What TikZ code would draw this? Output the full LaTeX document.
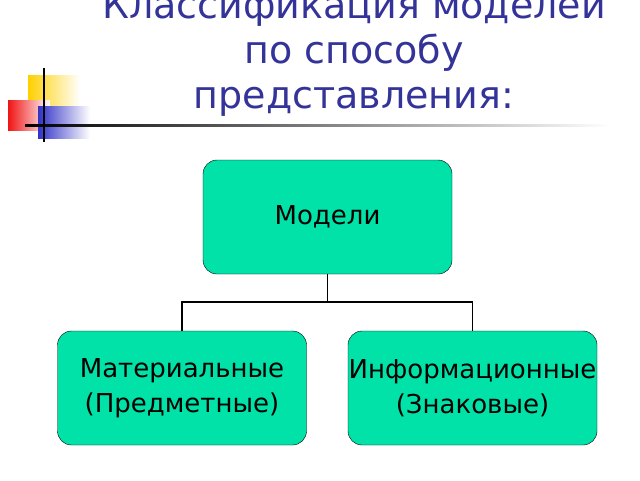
\documentclass[tikz,border=0pt]{standalone}
\usepackage{fontspec}
\setmainfont{DejaVu Sans}
\definecolor{boxc}{RGB}{0,226,168}
\definecolor{titlec}{RGB}{51,51,153}
\definecolor{yel}{RGB}{255,208,0}
\definecolor{blu}{RGB}{50,50,200}
\definecolor{rd}{RGB}{240,20,20}
\begin{document}
\begin{tikzpicture}[x=1pt,y=-1pt,
  box/.style={draw=black,fill=boxc,rounded corners=14pt,text width=249pt,minimum height=114pt,inner xsep=0pt,align=center,font=\fontsize{26}{35}\selectfont},
  conn/.style={draw=black,line width=1.5pt}]
\useasboundingbox (0,0) rectangle (640,480);
\clip (0,0) rectangle (640,480);
% decoration
\shade[left color=yel,right color=white] (28,75) rectangle (80,118);
\shade[left color=rd,right color=white] (8,100) rectangle (50,130);
\shade[left color=blu,right color=white] (38,106) rectangle (90,138);
\shade[left color=black,right color=white] (25,124.5) rectangle (610,126.5);
\draw[line width=1.5pt] (44,68) -- (44,142);
% title
\node[text=titlec,font=\fontsize{38}{45}\selectfont,align=center] (title) at (354,53)
 {Классификация моделей\\по способу\\представления:};
\node[box] (m) at (327.5,217) {Модели};
\node[box] (l) at (182,388) {Материальные\\(Предметные)};
\node[box] (r) at (472.5,388) {Информационные\\(Знаковые)};
\coordinate (j) at (327.5,302);
\draw[conn] (m.south) -- (j);
\draw[conn] (l.north) |- (j) -| (r.north);
\end{tikzpicture}
\end{document}
